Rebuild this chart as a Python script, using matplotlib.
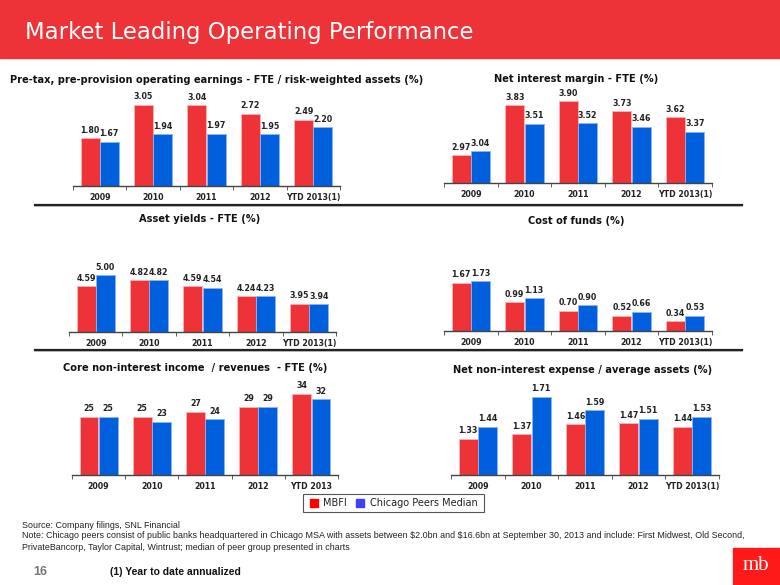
import matplotlib.pyplot as plt
import matplotlib.patches as mpatches
import numpy as np

W, H = 780, 585
RED = '#ee3338'
BLUE = '#005fdc'

cats_a = ['2009', '2010', '2011', '2012', 'YTD 2013(1)']
cats_b = ['2009', '2010', '2011', '2012', 'YTD 2013']

ppop_mbfi = [1.80, 3.05, 3.04, 2.72, 2.49]
ppop_peer = [1.67, 1.94, 1.97, 1.95, 2.20]
nim_mbfi = [2.97, 3.83, 3.90, 3.73, 3.62]
nim_peer = [3.04, 3.51, 3.52, 3.46, 3.37]
ay_mbfi = [4.59, 4.82, 4.59, 4.24, 3.95]
ay_peer = [5.00, 4.82, 4.54, 4.23, 3.94]
cof_mbfi = [1.67, 0.99, 0.70, 0.52, 0.34]
cof_peer = [1.73, 1.13, 0.90, 0.66, 0.53]
nii_mbfi = [25, 25, 27, 29, 34]
nii_peer = [25, 23, 24, 29, 32]
nie_mbfi = [1.33, 1.37, 1.46, 1.47, 1.44]
nie_peer = [1.44, 1.71, 1.59, 1.51, 1.53]

fig = plt.figure(figsize=(W / 100, H / 100), dpi=100)


def fx(px):
    return px / W


def fy(py):
    return 1 - py / H


def panel(x0, x1, base, top, v0, k, cats, red, blue, fmt):
    ax = fig.add_axes([fx(x0), fy(base), fx(x1 - x0), (base - top) / H])
    x = np.arange(len(cats))
    ax.bar(x - 0.18, red, width=0.355, color=RED,
           edgecolor='#f7b5b7', linewidth=0.6)
    ax.bar(x + 0.18, blue, width=0.355, color=BLUE,
           edgecolor='#8fb3f0', linewidth=0.6)
    for xi, r, b in zip(x, red, blue):
        ax.annotate(fmt.format(r), (xi - 0.18, r), xytext=(0, 2.5),
                    textcoords='offset points', ha='center', va='bottom',
                    fontsize=5.7, fontweight='bold', color='#222222')
        ax.annotate(fmt.format(b), (xi + 0.18, b), xytext=(0, 2.5),
                    textcoords='offset points', ha='center', va='bottom',
                    fontsize=5.7, fontweight='bold', color='#222222')
    ax.set_xlim(-0.5, len(cats) - 0.5)
    ax.set_ylim(v0, v0 + (base - top) / k)
    for s in ['left', 'right', 'top']:
        ax.spines[s].set_visible(False)
    ax.spines['bottom'].set_color('#444444')
    ax.spines['bottom'].set_linewidth(1.0)
    ax.set_yticks([])
    ax.set_xticks(x)
    ax.set_xticklabels(cats, fontsize=5.7, fontweight='bold', color='#222222')
    ax.tick_params(axis='x', which='major', length=0, pad=5)
    ax.set_xticks(np.arange(-0.5, len(cats)), minor=True)
    ax.tick_params(axis='x', which='minor', length=3, color='#444444')
    ax.patch.set_alpha(0)
    return ax


panel(73, 340, 186, 92, 0, 26.6, cats_a, ppop_mbfi, ppop_peer, '{:.2f}')
panel(444, 712, 183, 92, 2.49, 58, cats_a, nim_mbfi, nim_peer, '{:.2f}')
panel(69, 336, 332, 240, 2.93, 27.5, cats_a, ay_mbfi, ay_peer, '{:.2f}')
panel(444, 712, 331, 240, 0, 28.9, cats_a, cof_mbfi, cof_peer, '{:.2f}')
panel(72, 338, 475, 382, 2.2, 2.55, cats_b, nii_mbfi, nii_peer, '{:.0f}')
panel(451, 719, 475, 382, 1.0, 110, cats_a, nie_mbfi, nie_peer, '{:.2f}')

# panel titles
tkw = dict(fontsize=7.1, fontweight='bold', color='#111111', va='center')
fig.text(fx(10), fy(80), 'Pre-tax, pre-provision operating earnings - FTE / risk-weighted assets (%)', ha='left', **tkw)
fig.text(fx(576), fy(79), 'Net interest margin - FTE (%)', ha='center', **tkw)
fig.text(fx(200), fy(219), 'Asset yields - FTE (%)', ha='center', **tkw)
fig.text(fx(576), fy(221), 'Cost of funds (%)', ha='center', **tkw)
fig.text(fx(63), fy(368), 'Core non-interest income  / revenues  - FTE (%)', ha='left', **tkw)
fig.text(fx(453), fy(370), 'Net non-interest expense / average assets (%)', ha='left', **tkw)

# separators
for yy in [205, 350]:
    fig.add_artist(plt.Line2D([fx(35), fx(742)], [fy(yy + 1), fy(yy + 1)], color='#bbbbbb', lw=1.2))
    fig.add_artist(plt.Line2D([fx(35), fx(742)], [fy(yy), fy(yy)], color='#222222', lw=1.6))

# banner
fig.add_artist(mpatches.Rectangle((0, fy(58)), 1, 58 / H, color=RED, zorder=0))
fig.text(fx(25), fy(33), 'Market Leading Operating Performance', color='white',
         fontsize=16.4, va='center', ha='left')

# legend
fig.add_artist(mpatches.Rectangle((fx(303), fy(512)), fx(181), 18 / H, facecolor='white',
                                  edgecolor='#555555', lw=0.8))
fig.add_artist(mpatches.Rectangle((fx(310), fy(507)), fx(8), 8 / H, color='#ff0000'))
fig.text(fx(323), fy(503), 'MBFI', fontsize=7, va='center', color='#222222')
fig.add_artist(mpatches.Rectangle((fx(356), fy(507)), fx(8), 8 / H, color='#3f3fff'))
fig.text(fx(370), fy(503), 'Chicago Peers Median', fontsize=7, va='center', color='#222222')

# footnotes
nkw = dict(fontsize=6.4, family=['Liberation Sans Narrow', 'Liberation Sans'], color='#222222', va='center')
fig.text(fx(22), fy(526), 'Source: Company filings, SNL Financial', **nkw)
fig.text(fx(22), fy(536), r'Note: Chicago peers consist of public banks headquartered in Chicago MSA with assets between \$2.0bn and \$16.6bn at September 30, 2013 and include: First Midwest, Old Second,', **nkw)
fig.text(fx(22), fy(547), 'PrivateBancorp, Taylor Capital, Wintrust; median of peer group presented in charts', **nkw)
fig.text(fx(33), fy(572), '16', fontsize=9, fontweight='bold', color='#777777', va='center',
         family=['Liberation Sans Narrow', 'Liberation Sans'])
fig.text(fx(110), fy(572), '(1) Year to date annualized', fontsize=7.5, fontweight='bold', color='#111111',
         va='center', family=['Liberation Sans Narrow', 'Liberation Sans'])

# logo
fig.add_artist(mpatches.Rectangle((fx(733), 0), fx(47), 37 / H, color='#ff1a1a'))
fig.text(fx(756), fy(566), 'mb', color='white', fontsize=15, family='Liberation Serif',
         ha='center', va='center')

fig.savefig('out.png', dpi=100)
